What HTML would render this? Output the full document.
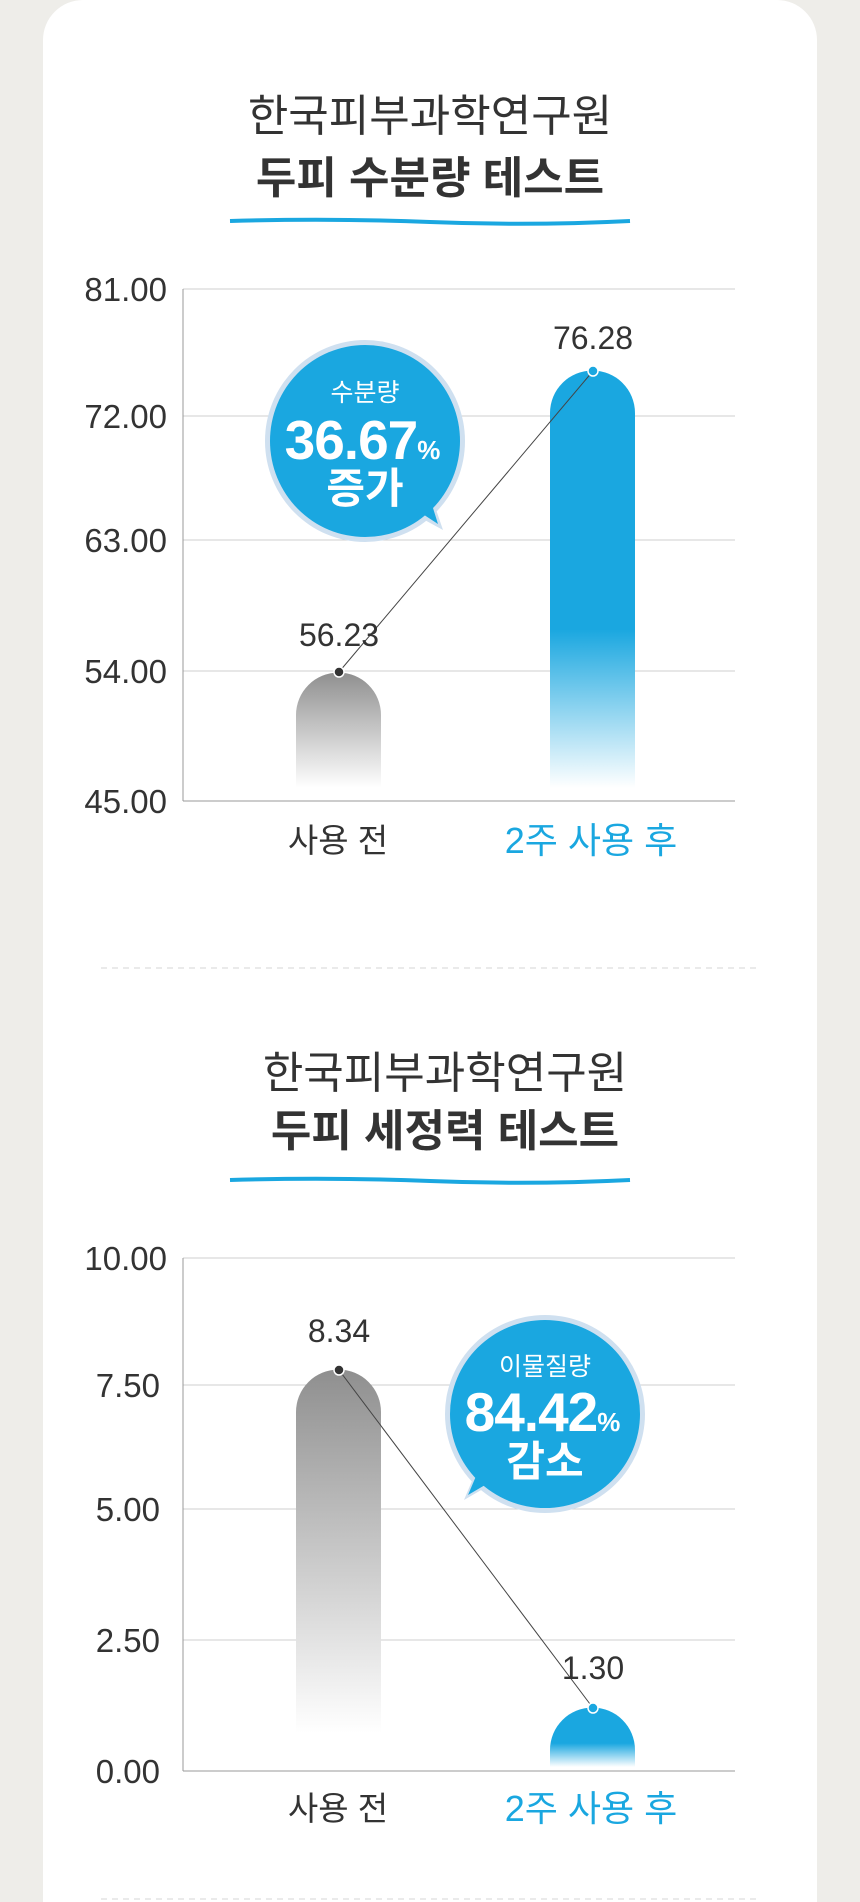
<!DOCTYPE html>
<html><head><meta charset="utf-8"><style>
html,body{margin:0;padding:0;background:#eeede9;}
svg{display:block;}
text{font-family:"Liberation Sans","Noto Sans CJK KR",sans-serif;}
</style></head><body>
<svg width="860" height="1902" viewBox="0 0 860 1902" xmlns="http://www.w3.org/2000/svg">
<defs>
<linearGradient id="g1" x1="0" y1="0" x2="0" y2="1"><stop offset="0" stop-color="#8f8f8f"/><stop offset="1" stop-color="#ffffff"/></linearGradient>
<linearGradient id="b1" x1="0" y1="0" x2="0" y2="1"><stop offset="0" stop-color="#1aa7e0"/><stop offset="0.62" stop-color="#1aa7e0"/><stop offset="1" stop-color="#ffffff"/></linearGradient>
<linearGradient id="b2" x1="0" y1="0" x2="0" y2="1"><stop offset="0" stop-color="#1aa7e0"/><stop offset="0.6" stop-color="#1aa7e0"/><stop offset="1" stop-color="#ffffff"/></linearGradient>
</defs>
<rect x="43" y="0" width="774" height="1960" rx="40" fill="#ffffff"/>

<!-- Chart 1 -->
<text x="430" y="131" font-size="44" text-anchor="middle" fill="#333">한국피부과학연구원</text>
<text x="430" y="193" font-size="44" font-weight="bold" text-anchor="middle" fill="#333">두피 수분량 테스트</text>
<path d="M230 221 Q330 218 430 222 T630 221" stroke="#1aa7e0" stroke-width="4" fill="none"/>
<g stroke="#cfcfcf" stroke-width="1">
<line x1="183" y1="289" x2="735" y2="289"/><line x1="183" y1="416" x2="735" y2="416"/>
<line x1="183" y1="540" x2="735" y2="540"/><line x1="183" y1="671" x2="735" y2="671"/>
</g>
<line x1="183" y1="801" x2="735" y2="801" stroke="#999"/>
<line x1="183" y1="289" x2="183" y2="801" stroke="#999"/>
<g font-size="33" fill="#333" text-anchor="end">
<text x="167" y="301">81.00</text><text x="167" y="428">72.00</text><text x="167" y="552">63.00</text><text x="167" y="683">54.00</text><text x="167" y="813">45.00</text>
</g>
<path d="M296 788 V715 A42.5 42.5 0 0 1 381 715 V788 Z" fill="url(#g1)"/>
<path d="M550 788 V413 A42.5 42.5 0 0 1 635 413 V788 Z" fill="url(#b1)"/>
<line x1="339" y1="672" x2="593" y2="371" stroke="#444" stroke-width="1"/>
<circle cx="339" cy="672" r="5" fill="#333" stroke="#fff" stroke-width="1.5"/>
<circle cx="593" cy="371" r="5" fill="#1aa7e0" stroke="#fff" stroke-width="1.5"/>
<text x="339" y="646" font-size="32" text-anchor="middle" fill="#333">56.23</text>
<text x="593" y="349" font-size="32" text-anchor="middle" fill="#333">76.28</text>
<ellipse cx="365" cy="441" rx="100" ry="101" fill="#cfe0f0"/>
<path d="M410 512 L443 530 L430 492 Z" fill="#cfe0f0"/>
<ellipse cx="365" cy="441" rx="95" ry="96" fill="#1aa7e0"/>
<path d="M412 507 L438 524 L428 492 Z" fill="#1aa7e0"/>
<text x="365" y="401" font-size="25" text-anchor="middle" fill="#fff">수분량</text>
<text x="362" y="459" font-size="55" font-weight="bold" text-anchor="middle" fill="#fff" letter-spacing="-1">36.67<tspan font-size="26">%</tspan></text>
<text x="365" y="503" font-size="42" font-weight="bold" text-anchor="middle" fill="#fff">증가</text>
<text x="338" y="852" font-size="33" text-anchor="middle" fill="#333">사용 전</text>
<text x="591" y="853" font-size="36" text-anchor="middle" fill="#1aa7e0">2주 사용 후</text>

<line x1="101" y1="968" x2="760" y2="968" stroke="#d6d6d6" stroke-dasharray="6 5"/>

<!-- Chart 2 -->
<text x="445" y="1088" font-size="44" text-anchor="middle" fill="#333">한국피부과학연구원</text>
<text x="445" y="1146" font-size="44" font-weight="bold" text-anchor="middle" fill="#333">두피 세정력 테스트</text>
<path d="M230 1180 Q330 1177 430 1181 T630 1180" stroke="#1aa7e0" stroke-width="4" fill="none"/>
<g stroke="#cfcfcf" stroke-width="1">
<line x1="183" y1="1258" x2="735" y2="1258"/><line x1="183" y1="1385" x2="735" y2="1385"/>
<line x1="183" y1="1509" x2="735" y2="1509"/><line x1="183" y1="1640" x2="735" y2="1640"/>
</g>
<line x1="183" y1="1771" x2="735" y2="1771" stroke="#999"/>
<line x1="183" y1="1258" x2="183" y2="1771" stroke="#999"/>
<g font-size="33" fill="#333" text-anchor="end">
<text x="167" y="1270">10.00</text><text x="160" y="1397">7.50</text><text x="160" y="1521">5.00</text><text x="160" y="1652">2.50</text><text x="160" y="1783">0.00</text>
</g>
<path d="M296 1733 V1412 A42.5 42.5 0 0 1 381 1412 V1733 Z" fill="url(#g1)"/>
<path d="M550 1767 V1750 A42.5 42.5 0 0 1 635 1750 V1767 Z" fill="url(#b2)"/>
<line x1="339" y1="1370" x2="593" y2="1708" stroke="#444" stroke-width="1"/>
<circle cx="339" cy="1370" r="5" fill="#333" stroke="#fff" stroke-width="1.5"/>
<circle cx="593" cy="1708" r="5" fill="#1aa7e0" stroke="#fff" stroke-width="1.5"/>
<text x="339" y="1342" font-size="32" text-anchor="middle" fill="#333">8.34</text>
<text x="593" y="1679" font-size="32" text-anchor="middle" fill="#333">1.30</text>
<ellipse cx="545" cy="1414" rx="100" ry="99" fill="#cfe0f0"/>
<path d="M495 1482 L464 1500 L480 1462 Z" fill="#cfe0f0"/>
<ellipse cx="545" cy="1414" rx="95" ry="94" fill="#1aa7e0"/>
<path d="M497 1478 L468 1495 L482 1462 Z" fill="#1aa7e0"/>
<text x="545" y="1375" font-size="25" text-anchor="middle" fill="#fff">이물질량</text>
<text x="542" y="1431" font-size="55" font-weight="bold" text-anchor="middle" fill="#fff" letter-spacing="-1">84.42<tspan font-size="26">%</tspan></text>
<text x="545" y="1476" font-size="42" font-weight="bold" text-anchor="middle" fill="#fff">감소</text>
<text x="338" y="1820" font-size="33" text-anchor="middle" fill="#333">사용 전</text>
<text x="591" y="1821" font-size="36" text-anchor="middle" fill="#1aa7e0">2주 사용 후</text>

<line x1="101" y1="1899" x2="760" y2="1899" stroke="#d6d6d6" stroke-dasharray="6 5"/>
</svg>
</body></html>
